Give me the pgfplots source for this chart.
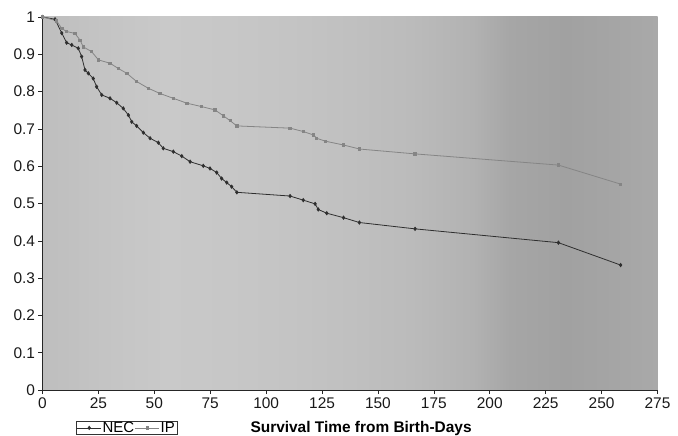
\documentclass[border=0pt]{standalone}
\usepackage{fontspec}
\setmainfont{Liberation Sans}
\usepackage{pgfplots}
\pgfplotsset{compat=1.18}
\definecolor{necc}{HTML}{2E2E2E}
\definecolor{ipc}{HTML}{858585}
\definecolor{bga}{HTML}{BEBEBE}
\definecolor{bgb}{HTML}{C4C4C4}
\definecolor{bgc}{HTML}{C9C9C9}
\definecolor{bgd}{HTML}{C7C7C7}
\definecolor{bge}{HTML}{C4C4C4}
\definecolor{bgf}{HTML}{C0C0C0}
\definecolor{bgg}{HTML}{BBBBBB}
\definecolor{bgh}{HTML}{B2B2B2}
\definecolor{bgi}{HTML}{A6A6A6}
\definecolor{bgj}{HTML}{A1A1A1}
\definecolor{bgk}{HTML}{A5A5A5}
\definecolor{bgl}{HTML}{A9A9A9}
\pgfdeclarehorizontalshading{bgshade}{100bp}{color(0bp)=(bga); color(25bp)=(bga); color(30bp)=(bgb); color(35bp)=(bgc); color(40bp)=(bgd); color(45bp)=(bge); color(50bp)=(bgf); color(55bp)=(bgg); color(60bp)=(bgh); color(63bp)=(bgi); color(67.5bp)=(bgj); color(71.5bp)=(bgk); color(75bp)=(bgl); color(100bp)=(bgl)}
\begin{document}
\begin{tikzpicture}
\begin{axis}[
  scale only axis, width=615bp, height=373bp,
  xmin=0, xmax=275, ymin=0, ymax=1,
  xtick={0,25,50,75,100,125,150,175,200,225,250,275},
  ytick={0,0.1,0.2,0.3,0.4,0.5,0.6,0.7,0.8,0.9,1},
  axis x line*=bottom, axis y line*=left,
  axis line style={black!85, line width=0.8pt, -},
  tick style={black!85, line width=0.6pt},
  tick align=outside, major tick length=4bp,
  xtick pos=bottom, ytick pos=left,
  tick label style={font=\fontsize{15.5}{15.5}\selectfont, text=black!90},
  /pgf/number format/assume math mode=true,
  yticklabel style={/pgf/number format/fixed, /pgf/number format/precision=1},
  xlabel={Survival Time from Birth-Days},
  xlabel style={at={(axis description cs:0.518,-0.103)}, anchor=center, font=\fontsize{15.5}{15.5}\selectfont\bfseries},
  axis background/.style={shading=bgshade},
  legend columns=-1,
  legend style={at={(axis description cs:0.054,-0.1195)}, anchor=south west, draw=black!80, fill=white,
    font=\fontsize{15}{15}\selectfont, inner xsep=1pt, inner ysep=0pt,
    /tikz/every even column/.append style={column sep=0pt},
    nodes={inner xsep=1pt, inner ysep=0.5pt}},
  legend image code/.code={\draw[mark repeat=2,mark phase=2] plot coordinates {(0cm,0cm) (0.42cm,0cm) (0.84cm,0cm)};},
]
\addplot[color=necc, line width=0.8pt, mark=diamond*, mark size=1.6pt, mark options={fill=necc}] coordinates {
(0,1) (5.6,0.994) (8.6,0.957) (10.8,0.931) (13.1,0.925) (16,0.916) (17.5,0.894) (19,0.858) (20.5,0.849)
(22.7,0.835) (24.2,0.813) (26.5,0.791) (30.2,0.782) (33.2,0.770) (36.1,0.755) (38.4,0.737) (39.9,0.719)
(42.1,0.708) (45.1,0.690) (48.1,0.675) (51.8,0.663) (54,0.648) (58.5,0.639) (62.3,0.627) (66,0.612)
(71.9,0.601) (74.9,0.594) (77.9,0.583) (80.1,0.567) (82.4,0.556) (84.6,0.545) (86.9,0.530)
(110.7,0.520) (116.6,0.509) (121.9,0.499) (123.3,0.484) (127.1,0.474) (134.6,0.462) (141.7,0.449)
(166.6,0.432) (230.7,0.395) (258.5,0.335)};
\addlegendentry{NEC}
\addplot[color=ipc, line width=0.8pt, mark=square*, mark size=1.2pt, mark options={fill=ipc}] coordinates {
(0,1) (6.3,0.990) (8.6,0.969) (10.8,0.961) (14.5,0.956) (16.8,0.938) (18.2,0.920) (22,0.907) (25,0.885)
(30.2,0.876) (33.9,0.862) (37.7,0.849) (42.1,0.827) (47.3,0.809) (52.5,0.795) (58.5,0.782) (64.5,0.769)
(71,0.760) (77.1,0.751) (80.9,0.735) (83.9,0.722) (86.9,0.708) (110.7,0.702) (116.6,0.693) (121.1,0.684)
(122.6,0.675) (126.5,0.667) (134.5,0.657) (141.8,0.646) (166.6,0.633) (230.7,0.603) (258.5,0.552)};
\addlegendentry{IP}
\end{axis}
\pgfresetboundingbox
\useasboundingbox (-42.5bp,-46bp) rectangle (635.5bp,390bp);
\end{tikzpicture}
\end{document}
